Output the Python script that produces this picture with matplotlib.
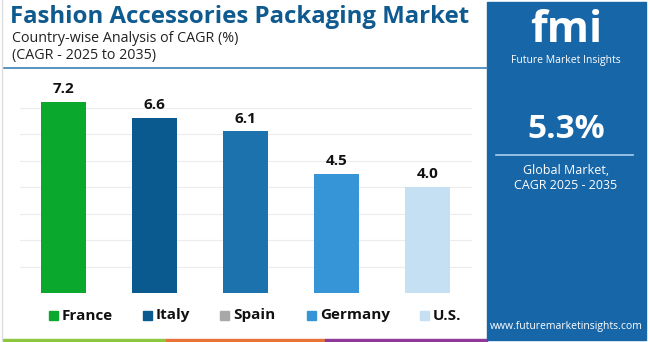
import matplotlib
matplotlib.use("Agg")
import matplotlib.pyplot as plt
from matplotlib.patches import Rectangle
from matplotlib.lines import Line2D

countries = ["France", "Italy", "Spain", "Germany", "U.S."]
cagr = [7.2, 6.6, 6.1, 4.5, 4.0]
bar_colors = ["#0aa92e", "#0b5a8f", "#1b72ad", "#3595d6", "#c5e0f2"]
legend_colors = ["#0aa92e", "#0b5a8f", "#a8a8a8", "#3595d6", "#c5e0f2"]
title = "Fashion Accessories Packaging Market"
subtitle1 = "Country-wise Analysis of CAGR (%)"
subtitle2 = "(CAGR - 2025 to 2035)"
global_cagr = "5.3%"

FONT = "Open Sans"
W, H = 650, 342
fig = plt.figure(figsize=(6.5, 3.42), dpi=100)
fig.patch.set_facecolor("white")

def fx(px):
    return px / W

def fy(py):
    return 1 - py / H

# Chart axes
ax = fig.add_axes([fx(20), fy(293), fx(472 - 20), (293 - 85) / H])
x = list(range(len(countries)))
ax.bar(x, cagr, width=0.5, color=bar_colors, zorder=3)
for xi, v in zip(x, cagr):
    ax.text(xi, v + 0.22, f"{v:.1f}", ha="center", va="bottom",
            fontsize=11, fontweight="bold", family=FONT, color="#111111")
ax.set_xlim(-0.478, 4.489)
ax.set_ylim(0, 7.85)
ax.set_yticks([1, 2, 3, 4, 5, 6, 7])
ax.yaxis.grid(True, color="#ececec", linewidth=0.8, zorder=0)
ax.tick_params(left=False, bottom=False, labelleft=False, labelbottom=False)
for s in ax.spines.values():
    s.set_visible(False)

# Titles
fig.text(fx(10), fy(17), title, fontsize=17.3, fontweight="bold", family=FONT,
         color="#0f5a8f", va="center", ha="left")
fig.text(fx(12), fy(38), subtitle1, fontsize=10.3, family=FONT, color="#222222",
         va="center", ha="left")
fig.text(fx(12), fy(56), subtitle2, fontsize=10.3, family=FONT, color="#222222",
         va="center", ha="left")
fig.add_artist(Line2D([fx(4), fx(487)], [fy(67.5), fy(67.5)], color="#3a7fb5",
                      linewidth=1.2, transform=fig.transFigure))

# Legend
leg_x = [49, 143, 220, 307, 420]
for lx, name, c in zip(leg_x, countries, legend_colors):
    fig.add_artist(Rectangle((fx(lx), fy(320)), fx(9), 9 / H, color=c,
                             transform=fig.transFigure))
    fig.text(fx(lx + 13), fy(315.5), name, fontsize=11, fontweight="bold",
             family=FONT, color="#111111", va="center", ha="left")

# Bottom strip
for x0, x1, c in [(3, 166, "#8dc63f"), (166, 325, "#e8733a"), (325, 487, "#8e3a96")]:
    fig.add_artist(Rectangle((fx(x0), 0), fx(x1 - x0), 3 / H, color=c,
                             transform=fig.transFigure))
fig.add_artist(Line2D([fx(1.5), fx(1.5)], [0, 1], color="#dddddd", linewidth=1,
                      transform=fig.transFigure))

# Right panel
fig.add_artist(Rectangle((fx(487), fy(340)), fx(646 - 487), 338 / H,
                         color="#1766a8", transform=fig.transFigure))
fig.text(fx(566), fy(30), "fmi", fontsize=31, fontweight="bold", family=FONT,
         color="white", ha="center", va="center")
fig.text(fx(566), fy(61), "Future Market Insights", fontsize=7.5, family=FONT,
         color="white", ha="center", va="center")
fig.text(fx(566), fy(130), global_cagr, fontsize=24, fontweight="bold", family=FONT,
         color="white", ha="center", va="center")
fig.add_artist(Line2D([fx(496), fx(633)], [fy(155), fy(155)], color="#a9cdee",
                      linewidth=1.2, transform=fig.transFigure))
fig.text(fx(566), fy(171), "Global Market,", fontsize=9, family=FONT,
         color="white", ha="center", va="center")
fig.text(fx(566), fy(185), "CAGR 2025 - 2035", fontsize=9, family=FONT,
         color="white", ha="center", va="center")
fig.text(fx(566), fy(327), "www.futuremarketinsights.com", fontsize=7.5, family=FONT,
         color="white", ha="center", va="center")

fig.savefig("out.png", dpi=100, facecolor="white")
